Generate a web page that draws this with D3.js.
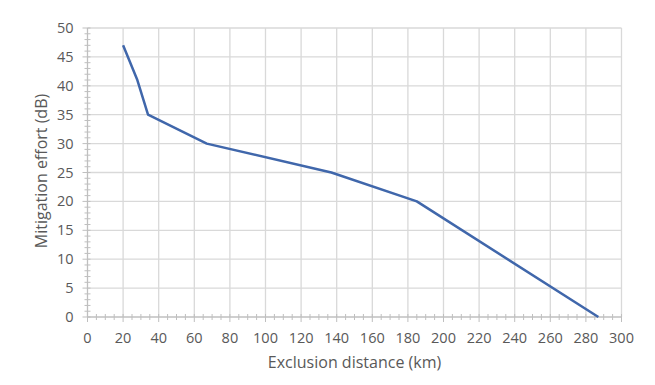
<!DOCTYPE html>
<html>
<head>
	<meta http-equiv="Content-Type" content="text/html;charset=UTF-8">
	<title>Mitigation effort</title>
	<style>
		body { margin: 0; background: #fff; }
		svg text { font-family: "Open Sans", "Noto Sans", sans-serif; fill: #595959; }
	</style>
</head>
<body>
	<div class="chart"></div>

	<script src="https://d3js.org/d3.v7.min.js"></script>
	<script>
		/* data */
		var distance = [20, 28, 34, 67, 137, 185, 287];
		var effort   = [47, 41, 35, 30, 25, 20, 0];

		var xTicks = [0, 20, 40, 60, 80, 100, 120, 140, 160, 180, 200, 220, 240, 260, 280, 300];
		var yTicks = [0, 5, 10, 15, 20, 25, 30, 35, 40, 45, 50];

		var w = 655;
		var h = 385;
		/* plot area edges */
		var pLeft = 87.5, pRight = 621.5, pTop = 28, pBottom = 317;

		var SVG = d3.select("div.chart").append("svg")
					.attr("width", w)
					.attr("height", h);

		var xSCALE = d3.scaleLinear().domain([0, 300]).range([pLeft, pRight]);
		var ySCALE = d3.scaleLinear().domain([0, 50]).range([pBottom, pTop]);

		/* gridlines */
		SVG.append("g").selectAll("line")
			.data(xTicks.slice(1))
			.enter().append("line")
			.attr("x1", function(d){ return xSCALE(d); })
			.attr("x2", function(d){ return xSCALE(d); })
			.attr("y1", pTop).attr("y2", pBottom)
			.attr("stroke", "#d9d9d9").attr("stroke-width", 1.3);

		SVG.append("g").selectAll("line")
			.data(yTicks.slice(1))
			.enter().append("line")
			.attr("y1", function(d){ return ySCALE(d); })
			.attr("y2", function(d){ return ySCALE(d); })
			.attr("x1", pLeft).attr("x2", pRight)
			.attr("stroke", "#d9d9d9").attr("stroke-width", 1.3);

		/* minor ticks, crossing the axes */
		SVG.append("g").selectAll("line")
			.data(d3.range(0, 301, 5))
			.enter().append("line")
			.attr("x1", function(d){ return xSCALE(d); })
			.attr("x2", function(d){ return xSCALE(d); })
			.attr("y1", pBottom - 3)
			.attr("y2", function(d){ return d % 20 === 0 ? pBottom + 5 : pBottom + 3; })
			.attr("stroke", "#bfbfbf").attr("stroke-width", 1);

		SVG.append("g").selectAll("line")
			.data(d3.range(0, 51, 1))
			.enter().append("line")
			.attr("y1", function(d){ return ySCALE(d); })
			.attr("y2", function(d){ return ySCALE(d); })
			.attr("x1", function(d){ return d % 5 === 0 ? pLeft - 5 : pLeft - 3; })
			.attr("x2", pLeft + 3)
			.attr("stroke", "#bfbfbf").attr("stroke-width", 1);

		/* axis lines */
		SVG.append("line")
			.attr("x1", pLeft).attr("x2", pRight).attr("y1", pBottom).attr("y2", pBottom)
			.attr("stroke", "#bfbfbf").attr("stroke-width", 1.3);
		SVG.append("line")
			.attr("x1", pLeft).attr("x2", pLeft).attr("y1", pTop).attr("y2", pBottom)
			.attr("stroke", "#bfbfbf").attr("stroke-width", 1.3);

		/* tick labels */
		SVG.append("g").selectAll("text")
			.data(xTicks)
			.enter().append("text")
			.text(function(d){ return d; })
			.attr("x", function(d){ return xSCALE(d); })
			.attr("y", pBottom + 26)
			.attr("text-anchor", "middle")
			.attr("font-size", "14.5px");

		SVG.append("g").selectAll("text")
			.data(yTicks)
			.enter().append("text")
			.text(function(d){ return d; })
			.attr("x", pLeft - 14)
			.attr("y", function(d){ return ySCALE(d) + 5; })
			.attr("text-anchor", "end")
			.attr("font-size", "14.5px");

		/* the line */
		var line = d3.line()
			.x(function(d, i){ return xSCALE(distance[i]); })
			.y(function(d, i){ return ySCALE(effort[i]); });

		SVG.append("path")
			.datum(distance)
			.attr("d", line)
			.attr("fill", "none")
			.attr("stroke", "#4067ab")
			.attr("stroke-width", 2.5)
			.attr("stroke-linejoin", "round");

		/* axis titles */
		SVG.append("text")
			.text("Exclusion distance (km)")
			.attr("x", (pLeft + pRight) / 2)
			.attr("y", 368)
			.attr("text-anchor", "middle")
			.attr("font-size", "16px");

		SVG.append("text")
			.text("Mitigation effort (dB)")
			.attr("transform", "translate(47,171) rotate(-90)")
			.attr("text-anchor", "middle")
			.attr("font-size", "16px");
	</script>
</body>
</html>
